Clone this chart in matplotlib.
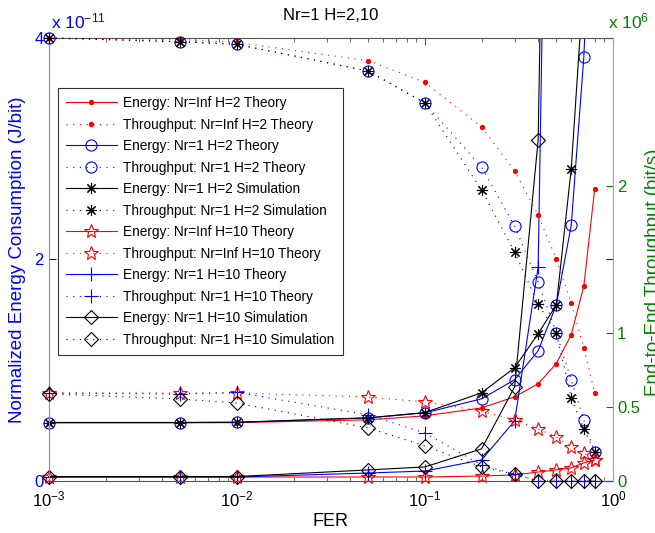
import matplotlib
matplotlib.use('Agg')
import matplotlib.pyplot as plt
from matplotlib.patches import Rectangle
from matplotlib.ticker import LogLocator, NullFormatter

plt.rcParams['font.family'] = ['Liberation Sans', 'DejaVu Sans']
plt.rcParams['mathtext.default'] = 'regular'

# ---------------- data ----------------
fer = [1e-3, 5e-3, 1e-2, 5e-2, 0.1, 0.2, 0.3, 0.4, 0.5, 0.6, 0.7, 0.8]

# energy in units of 1e-11 J/bit
e_inf_h2 = [0.525, 0.525, 0.527, 0.552, 0.588, 0.66, 0.76, 0.878, 1.06, 1.32, 1.76, 2.64]
e_nr1_h2_th = [0.528, 0.528, 0.530, 0.57, 0.615, 0.742, 0.914, 1.176, 1.59, 2.31, 3.83, 6.0]
e_nr1_h2_sim = [0.528, 0.528, 0.530, 0.57, 0.618, 0.796, 1.023, 1.33, 1.59, 2.82, 4.53, 10.0]
e_inf_h10 = [0.036, 0.036, 0.036, 0.036, 0.036, 0.045, 0.054, 0.081, 0.10, 0.118, 0.163, 0.19]
e_nr1_h10_th = [0.036, 0.036, 0.036, 0.072, 0.09, 0.19, 0.543, 1.93, 11.8, 30, 60, 120]
e_nr1_h10_sim = [0.040, 0.040, 0.040, 0.10, 0.127, 0.29, 0.85, 3.08, 12.4, 30, 60, 120]

# throughput in units of 1e6 bit/s
t_inf_h2 = [3.0, 2.99, 2.97, 2.846, 2.70, 2.397, 2.099, 1.80, 1.503, 1.205, 0.90, 0.596]
t_nr1_h2_th = [3.0, 2.975, 2.957, 2.776, 2.559, 2.126, 1.726, 1.347, 1.002, 0.684, 0.413, 0.196]
t_nr1_h2_sim = [3.0, 2.975, 2.957, 2.776, 2.559, 1.97, 1.55, 1.198, 1.002, 0.562, 0.352, 0.196]
t_inf_h10 = [0.596, 0.596, 0.596, 0.569, 0.535, 0.474, 0.413, 0.352, 0.298, 0.230, 0.190, 0.142]
t_nr1_h10_th = [0.596, 0.589, 0.60, 0.447, 0.325, 0.108, 0.047, 0.0, 0.0, 0.0, 0.0, 0.0]
t_nr1_h10_sim = [0.59, 0.555, 0.528, 0.359, 0.237, 0.095, 0.047, 0.0, 0.0, 0.0, 0.0, 0.0]

labels = [
    'Energy: Nr=Inf H=2 Theory', 'Throughput: Nr=Inf H=2 Theory',
    'Energy: Nr=1 H=2 Theory', 'Throughput: Nr=1 H=2 Theory',
    'Energy: Nr=1 H=2 Simulation', 'Throughput: Nr=1 H=2 Simulation',
    'Energy: Nr=Inf H=10 Theory', 'Throughput: Nr=Inf H=10 Theory',
    'Energy: Nr=1 H=10 Theory', 'Throughput: Nr=1 H=10 Theory',
    'Energy: Nr=1 H=10 Simulation', 'Throughput: Nr=1 H=10 Simulation',
]

# ---------------- figure ----------------
BLUE = '#0000ff'
BLUE_SP = '#7f7fff'
GREEN = '#008000'
GREEN_SP = '#7fbf7f'
GRAY = '#555555'

fig = plt.figure(figsize=(6.55, 5.33), dpi=100)
ax = fig.add_axes([0.0748, 0.0976, 0.861, 0.8311])
ax2 = ax.twinx()

ax.set_xscale('log')
ax.set_xlim(1e-3, 1)
ax.set_ylim(0, 4)
ax2.set_ylim(0, 3)

DOT = (0, (1, 5))
lw = 0.8
styles = [
    dict(color='red', marker='.', ms=6),
    dict(color=BLUE, marker='o', ms=8, mfc='none'),
    dict(color='black', marker=(8, 2, 0), ms=8),
    dict(color='red', marker='*', ms=10.5, mfc='none'),
    dict(color=BLUE, marker='+', ms=10),
    dict(color='black', marker='D', ms=7, mfc='none'),
]
energies = [e_inf_h2, e_nr1_h2_th, e_nr1_h2_sim, e_inf_h10, e_nr1_h10_th, e_nr1_h10_sim]
thrs = [t_inf_h2, t_nr1_h2_th, t_nr1_h2_sim, t_inf_h10, t_nr1_h10_th, t_nr1_h10_sim]

handles = []
for st, e, t in zip(styles, energies, thrs):
    le, = ax.plot(fer, e, linestyle='-', lw=lw, mew=0.8, **st)
    clip = Rectangle((-0.05, -0.05), 1.1, 1.05, transform=ax.transAxes)
    le.set_clip_path(clip)
    lt, = ax2.plot(fer, t, linestyle=DOT, lw=lw, mew=0.8, clip_on=False, **st)
    handles += [le, lt]

# ticks
ax.xaxis.set_major_locator(LogLocator(base=10, numticks=10))
ax.xaxis.set_minor_locator(LogLocator(base=10, subs=range(2, 10), numticks=20))
ax.xaxis.set_minor_formatter(NullFormatter())
ax.tick_params(axis='x', which='both', direction='in', top=True, color=GRAY,
               labelsize=12, pad=6)
ax.tick_params(axis='x', which='major', length=5)
ax.tick_params(axis='x', which='minor', length=3)

ax.set_yticks([0, 2, 4])
ax.set_yticklabels(['0', '2', '4'])
ax.tick_params(axis='y', direction='in', left=True, right=True, color=BLUE,
               labelcolor=BLUE, labelsize=12, length=5, pad=4)

ax2.set_yticks([0, 0.5, 1, 2])
ax2.set_yticklabels(['0', '0.5', '1', '2'])
ax2.tick_params(axis='y', direction='in', color=GREEN, labelcolor=GREEN,
                labelsize=12, length=5, pad=3)

for s in ['top', 'bottom']:
    ax.spines[s].set_color(GRAY)
ax.spines['left'].set_color(BLUE_SP)
ax.spines['right'].set_visible(False)
for s in ['top', 'bottom', 'left']:
    ax2.spines[s].set_visible(False)
ax2.spines['right'].set_color(GREEN_SP)

ax.set_xlabel('FER', fontsize=13, labelpad=3)
ax.set_ylabel('Normalized Energy Consumption (J/bit)', color=BLUE, fontsize=13.5, labelpad=6)
fig.text(0.998, 0.49, 'End-to-End Throughput (bit/s)', rotation=90, color=GREEN,
         fontsize=13.5, ha='center', va='center')
ax.set_title('Nr=1 H=2,10', fontsize=12, pad=13)

fig.text(0.078, 0.947, r'x 10$^{-11}$', color=BLUE, fontsize=12.5)
fig.text(0.928, 0.947, r'x 10$^{6}$', color=GREEN, fontsize=12.5)

leg = ax2.legend(handles, labels, loc='upper left', bbox_to_anchor=(0.016, 0.887),
                 borderaxespad=0, fontsize=9.8, handlelength=3.7, handletextpad=0.5,
                 labelspacing=0.55, borderpad=0.6, fancybox=False, framealpha=1,
                 edgecolor='#333333')
leg.get_frame().set_linewidth(0.8)

fig.savefig('out.png', dpi=100)
